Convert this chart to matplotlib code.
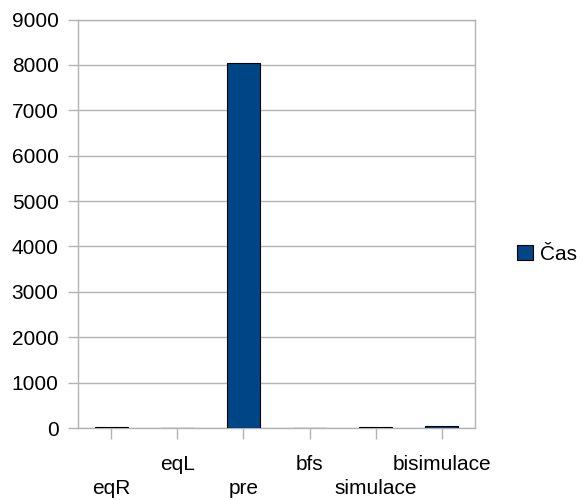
import matplotlib
matplotlib.use("Agg")
import matplotlib.pyplot as plt

categories = ["eqR", "eqL", "pre", "bfs", "simulace", "bisimulace"]
cas = [12, 6, 8040, 6, 20, 45]
yticks = [0, 1000, 2000, 3000, 4000, 5000, 6000, 7000, 8000, 9000]

plt.rcParams['font.family'] = ['Liberation Sans', 'DejaVu Sans']
FS = 15

fig = plt.figure(figsize=(5.81, 5.0), dpi=100)
ax = fig.add_axes([78/581, 1-428/500, (475-78)/581, (428-19.5)/500])

x = list(range(len(categories)))
ax.bar(x, cas, width=0.5, color="#004586", edgecolor="black", linewidth=0.8,
       label="Čas", zorder=3)

ax.set_ylim(0, 9000)
ax.set_xlim(-0.5, len(categories) - 0.5)
ax.set_yticks(yticks)
ax.set_yticklabels([str(v) for v in yticks], fontsize=FS)
ax.yaxis.grid(True, color="#b3b3b3", linewidth=1, zorder=0)
ax.set_xticks(x)
ax.set_xticklabels([])
for i, c in enumerate(categories):
    dy = -43.2 if i % 2 == 0 else -26.6
    ax.annotate(c, xy=(i, 0), xycoords=('data', 'data'), xytext=(0, dy),
                textcoords='offset points', ha='center', va='center', fontsize=FS,
                annotation_clip=False)

for s in ax.spines.values():
    s.set_color("#b3b3b3")
    s.set_linewidth(1)
ax.tick_params(axis='both', colors="#b3b3b3", length=7, width=1, labelcolor="black")
ax.tick_params(axis='y', pad=7)
ax.tick_params(axis='x', length=8)

leg = ax.legend(loc='center left', bbox_to_anchor=((517-78)/397, (428-254)/408.5),
                frameon=False, fontsize=FS, handlelength=0.75, handleheight=0.75,
                handletextpad=0.35, borderpad=0, borderaxespad=0)

fig.savefig("out.png", dpi=100)
